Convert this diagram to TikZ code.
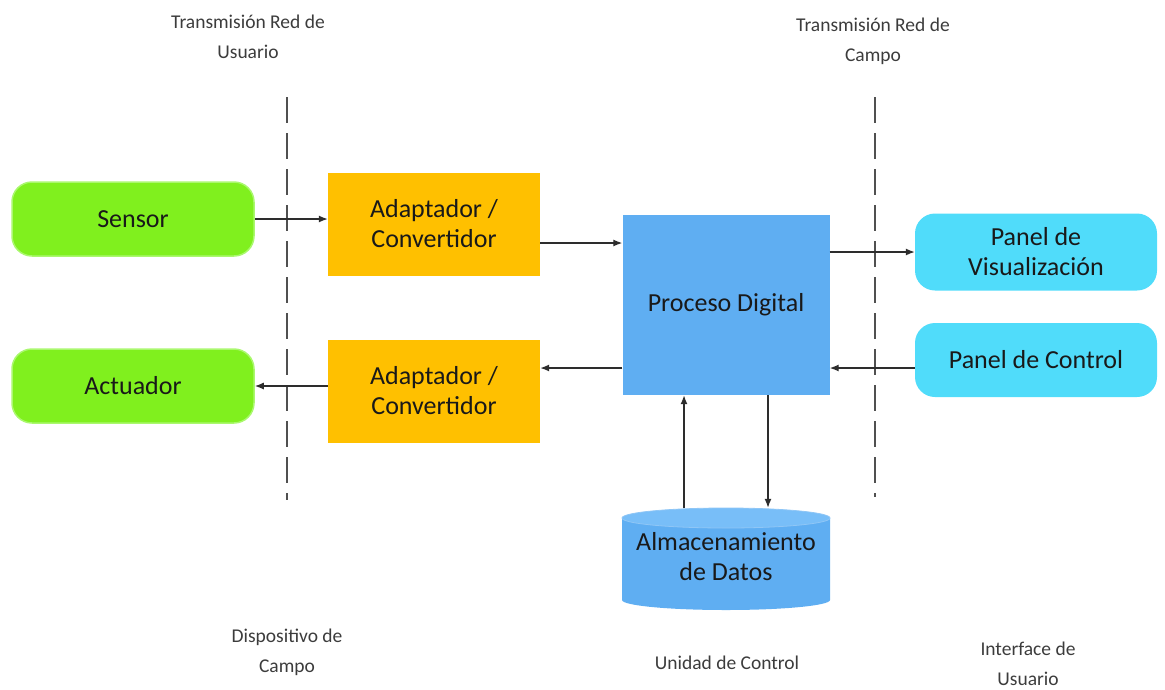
\documentclass[tikz,border=0pt]{standalone}
\usepackage{fontspec}
\setmainfont{Carlito}
\usetikzlibrary{arrows.meta,calc}
\definecolor{limefill}{RGB}{128,240,30}
\definecolor{limeedge}{RGB}{170,248,110}
\definecolor{goldfill}{RGB}{255,192,0}
\definecolor{procblue}{RGB}{95,174,242}
\definecolor{procblue2}{RGB}{120,190,248}
\definecolor{cyanfill}{RGB}{80,220,250}
\definecolor{inktext}{RGB}{25,25,25}
\definecolor{labeltext}{RGB}{60,60,60}
\definecolor{wire}{RGB}{45,45,45}
\definecolor{dashgray}{RGB}{80,80,80}
\tikzset{
  boxtext/.style={text=inktext,font=\fontsize{26}{30}\selectfont,align=center},
  devbox/.style={boxtext,rounded corners=20pt,fill=limefill,draw=limeedge,line width=1.5pt,minimum width=242pt,minimum height=74pt},
  convbox/.style={boxtext,fill=goldfill,minimum width=212pt,minimum height=103pt},
  procbox/.style={boxtext,fill=procblue,minimum width=207pt,minimum height=180pt},
  uibox/.style={boxtext,rounded corners=20pt,fill=cyanfill,minimum width=242pt},
  lbl/.style={text=labeltext,font=\fontsize{19.5}{30}\selectfont,align=center},
  arr/.style={draw=wire,line width=1.3pt,-{Latex[length=9pt,width=7pt]}},
  netline/.style={draw=dashgray,line width=1.8pt,dash pattern=on 26pt off 10pt}
}
\begin{document}
\begin{tikzpicture}[x=1pt,y=-1pt]
\useasboundingbox (0,0) rectangle (1165,689);

% boundary lines between the zones
\coordinate (d1t) at (287,97);
\coordinate (d1b) at (287,500);
\coordinate (d2t) at (875,97);
\coordinate (d2b) at (875,497);
\draw[netline] (d1t) -- (d1b);
\draw[netline] (d2t) -- (d2b);

% field devices
\node[devbox] (sensor) at (133,219) {Sensor};
\node[devbox] (act) at (133,386) {Actuador};

% adapters
\node[convbox] (ad1) at (434,224) {Adaptador /\\Convertidor};
\node[convbox] (ad2) at (434,391) {Adaptador /\\Convertidor};

% control unit
\node[procbox] (pd) at (726,305) {Proceso Digital};

% data store (cylinder)
\fill[procblue] (622,518) -- (622,600) arc[start angle=180,end angle=0,x radius=104,y radius=10] -- (830,518) -- cycle;
\fill[procblue2] (726,518) ellipse[x radius=104,y radius=10];
\draw[procblue!70!white,line width=0.8pt] (726,518) ellipse[x radius=104,y radius=10];
\node[boxtext,minimum width=208pt,minimum height=97pt] (db) at (726,556.5) {Almacenamiento\\de Datos};

% user interface
\node[uibox,minimum height=77pt] (vis) at (1036,252) {Panel de\\Visualización};
\node[uibox,minimum height=74pt] (ctrl) at (1036,360) {Panel de Control};

% signal flow
\draw[arr] (sensor.east) -- (sensor.east -| ad1.west);
\draw[arr] ([yshift=-19pt]ad1.east) -- ([yshift=-19pt]ad1.east -| pd.west);
\draw[arr] (pd.east |- vis.west) -- (vis.west);
\draw[arr] ([yshift=-8pt]ctrl.west) -- ([yshift=-8pt]ctrl.west -| pd.east);
\draw[arr] ([yshift=-8pt]ctrl.west -| pd.west) -- ([yshift=-8pt]ctrl.west -| ad2.east);
\draw[arr] (act.east -| ad2.west) -- (act.east);
\draw[arr] ([xshift=-42pt]db.north) -- ([xshift=-42pt]db.north |- pd.south);
\draw[arr] ([xshift=42pt]pd.south) -- ([xshift=42pt]pd.south |- db.north);

% zone captions
\node[lbl] (tu) at (248,37) {Transmisión Red de\\Usuario};
\node[lbl] (tc) at (873,41) {Transmisión Red de\\Campo};
\node[lbl] (dc) at (287,652) {Dispositivo de\\Campo};
\node[lbl] (uc) at (727,663) {Unidad de Control};
\node[lbl] (iu) at (1028,664) {Interface de\\Usuario};
\end{tikzpicture}
\end{document}
